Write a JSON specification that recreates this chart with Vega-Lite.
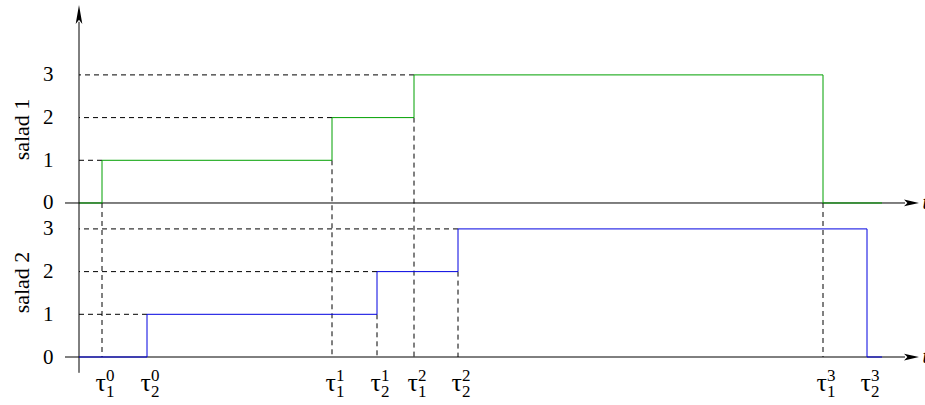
{
  "$schema": "https://vega.github.io/schema/vega-lite/v6.json",
  "width": 846,
  "height": 400,
  "autosize": {"type": "none"},
  "padding": {"left": 79, "top": 5, "right": 0, "bottom": 0},
  "background": "white",
  "config": {
    "view": {"stroke": null},
    "font": "Liberation Serif",
    "axisY": {
      "format": "d",
      "domain": false, "ticks": false, "tickSize": 0, "grid": false,
      "labelPadding": 26, "labelFont": "Liberation Serif", "labelFontSize": 21, "labelColor": "black",
      "titleFont": "Liberation Serif", "titleFontSize": 22, "titleFontWeight": "normal",
      "titleColor": "black", "titleAngle": 270, "titleAlign": "center", "titleBaseline": "alphabetic",
      "titleX": -51
    }
  },
  "datasets": {
    "steps": [
      {"salad": "salad 1", "t": 0, "level": 0},
      {"salad": "salad 1", "t": 2.3, "level": 1},
      {"salad": "salad 1", "t": 25.3, "level": 2},
      {"salad": "salad 1", "t": 33.5, "level": 3},
      {"salad": "salad 1", "t": 74.4, "level": 0},
      {"salad": "salad 1", "t": 80.3, "level": 0},
      {"salad": "salad 2", "t": 0, "level": 0},
      {"salad": "salad 2", "t": 6.8, "level": 1},
      {"salad": "salad 2", "t": 29.8, "level": 2},
      {"salad": "salad 2", "t": 37.9, "level": 3},
      {"salad": "salad 2", "t": 78.8, "level": 0},
      {"salad": "salad 2", "t": 80.3, "level": 0}
    ],
    "events": [
      {"salad": "salad 1", "sub": "1", "sup": "0", "t": 2.3, "low": 0},
      {"salad": "salad 1", "sub": "1", "sup": "1", "t": 25.3, "low": 1},
      {"salad": "salad 1", "sub": "1", "sup": "2", "t": 33.5, "low": 2},
      {"salad": "salad 1", "sub": "1", "sup": "3", "t": 74.4, "low": 0},
      {"salad": "salad 2", "sub": "2", "sup": "0", "t": 6.8, "low": 0},
      {"salad": "salad 2", "sub": "2", "sup": "1", "t": 29.8, "low": 1},
      {"salad": "salad 2", "sub": "2", "sup": "2", "t": 37.9, "low": 2},
      {"salad": "salad 2", "sub": "2", "sup": "3", "t": 78.8, "low": 0}
    ],
    "one": [{"k": 1}]
  },
  "resolve": {"scale": {"y": "independent"}},
  "layer": [
    {
      "layer": [
        {
          "data": {"name": "steps"},
          "transform": [{"filter": "datum.salad === 'salad 1' && datum.level > 0"}],
          "mark": {"type": "rule", "color": "black", "strokeWidth": 1, "strokeDash": [5, 4]},
          "encoding": {
            "x": {"field": "t", "type": "quantitative", "scale": {"domain": [0, 84.6], "nice": false, "zero": false}, "axis": null},
            "x2": {"datum": 0},
            "y": {"field": "level", "type": "quantitative", "scale": {"domain": [-4.731, 4.637], "nice": false, "zero": false}, "axis": {"orient": "left", "values": [0, 1, 2, 3], "title": "salad 1", "titleY": 124, "labelFont": "Liberation Serif", "titleFont": "Liberation Serif"}}
          }
        },
        {
          "data": {"name": "events"},
          "transform": [{"filter": "datum.salad === 'salad 1'"}],
          "mark": {"type": "rule", "color": "black", "strokeWidth": 1, "strokeDash": [5, 4]},
          "encoding": {
            "x": {"field": "t", "type": "quantitative", "scale": {"domain": [0, 84.6], "nice": false, "zero": false}, "axis": null},
            "y": {"field": "low", "type": "quantitative", "scale": {"domain": [-4.731, 4.637], "nice": false, "zero": false}, "axis": {"orient": "left", "values": [0, 1, 2, 3], "title": "salad 1", "titleY": 124, "labelFont": "Liberation Serif", "titleFont": "Liberation Serif"}},
            "y2": {"datum": -3.607}
          }
        },
        {
          "data": {"name": "one"},
          "mark": {"type": "rule", "color": "black", "strokeWidth": 1},
          "encoding": {
            "x": {"datum": -1.4, "type": "quantitative", "scale": {"domain": [0, 84.6], "nice": false, "zero": false}, "axis": null},
            "x2": {"datum": 82.6},
            "y": {"datum": 0, "type": "quantitative", "scale": {"domain": [-4.731, 4.637], "nice": false, "zero": false}, "axis": {"orient": "left", "values": [0, 1, 2, 3], "title": "salad 1", "titleY": 124, "labelFont": "Liberation Serif", "titleFont": "Liberation Serif"}}
          }
        },
        {
          "data": {"name": "one"},
          "mark": {"type": "point", "filled": true, "color": "black", "opacity": 1, "strokeWidth": 0, "size": 225, "shape": "M1,0 L-1,-0.45 L-0.55,0 L-1,0.45 Z"},
          "encoding": {
            "x": {"datum": 83.25, "type": "quantitative", "scale": {"domain": [0, 84.6], "nice": false, "zero": false}, "axis": null},
            "y": {"datum": 0, "type": "quantitative", "scale": {"domain": [-4.731, 4.637], "nice": false, "zero": false}, "axis": {"orient": "left", "values": [0, 1, 2, 3], "title": "salad 1", "titleY": 124, "labelFont": "Liberation Serif", "titleFont": "Liberation Serif"}}
          }
        },
        {
          "data": {"name": "one"},
          "mark": {"type": "text", "text": "t", "font": "Liberation Serif", "fontStyle": "italic", "fontSize": 20, "align": "left", "baseline": "middle", "color": "black"},
          "encoding": {
            "x": {"datum": 84.35, "type": "quantitative", "scale": {"domain": [0, 84.6], "nice": false, "zero": false}, "axis": null},
            "y": {"datum": 0, "type": "quantitative", "scale": {"domain": [-4.731, 4.637], "nice": false, "zero": false}, "axis": {"orient": "left", "values": [0, 1, 2, 3], "title": "salad 1", "titleY": 124, "labelFont": "Liberation Serif", "titleFont": "Liberation Serif"}}
          }
        },
        {
          "data": {"name": "steps"},
          "transform": [{"filter": "datum.salad === 'salad 1'"}],
          "mark": {"type": "line", "interpolate": "step-after", "color": "#00a000", "strokeWidth": 1},
          "encoding": {
            "x": {"field": "t", "type": "quantitative", "scale": {"domain": [0, 84.6], "nice": false, "zero": false}, "axis": null},
            "y": {"field": "level", "type": "quantitative", "scale": {"domain": [-4.731, 4.637], "nice": false, "zero": false}, "axis": {"orient": "left", "values": [0, 1, 2, 3], "title": "salad 1", "titleY": 124, "labelFont": "Liberation Serif", "titleFont": "Liberation Serif"}}
          }
        }
      ]
    },
    {
      "layer": [
        {
          "data": {"name": "steps"},
          "transform": [{"filter": "datum.salad === 'salad 2' && datum.level > 0"}],
          "mark": {"type": "rule", "color": "black", "strokeWidth": 1, "strokeDash": [5, 4]},
          "encoding": {
            "x": {"field": "t", "type": "quantitative", "scale": {"domain": [0, 84.6], "nice": false, "zero": false}, "axis": null},
            "x2": {"datum": 0},
            "y": {"field": "level", "type": "quantitative", "scale": {"domain": [-1.124, 8.244], "nice": false, "zero": false}, "axis": {"orient": "left", "values": [0, 1, 2, 3], "title": "salad 2", "titleY": 277, "labelFont": "Liberation Serif", "titleFont": "Liberation Serif"}}
          }
        },
        {
          "data": {"name": "events"},
          "transform": [{"filter": "datum.salad === 'salad 2'"}],
          "mark": {"type": "rule", "color": "black", "strokeWidth": 1, "strokeDash": [5, 4]},
          "encoding": {
            "x": {"field": "t", "type": "quantitative", "scale": {"domain": [0, 84.6], "nice": false, "zero": false}, "axis": null},
            "y": {"field": "low", "type": "quantitative", "scale": {"domain": [-1.124, 8.244], "nice": false, "zero": false}, "axis": {"orient": "left", "values": [0, 1, 2, 3], "title": "salad 2", "titleY": 277, "labelFont": "Liberation Serif", "titleFont": "Liberation Serif"}},
            "y2": {"datum": 0}
          }
        },
        {
          "data": {"name": "one"},
          "mark": {"type": "rule", "color": "black", "strokeWidth": 1},
          "encoding": {
            "x": {"datum": -1.4, "type": "quantitative", "scale": {"domain": [0, 84.6], "nice": false, "zero": false}, "axis": null},
            "x2": {"datum": 82.6},
            "y": {"datum": 0, "type": "quantitative", "scale": {"domain": [-1.124, 8.244], "nice": false, "zero": false}, "axis": {"orient": "left", "values": [0, 1, 2, 3], "title": "salad 2", "titleY": 277, "labelFont": "Liberation Serif", "titleFont": "Liberation Serif"}}
          }
        },
        {
          "data": {"name": "one"},
          "mark": {"type": "rule", "color": "black", "strokeWidth": 1},
          "encoding": {
            "x": {"datum": 0, "type": "quantitative", "scale": {"domain": [0, 84.6], "nice": false, "zero": false}, "axis": null},
            "y": {"datum": -0.37, "type": "quantitative", "scale": {"domain": [-1.124, 8.244], "nice": false, "zero": false}, "axis": {"orient": "left", "values": [0, 1, 2, 3], "title": "salad 2", "titleY": 277, "labelFont": "Liberation Serif", "titleFont": "Liberation Serif"}},
            "y2": {"datum": 7.85}
          }
        },
        {
          "data": {"name": "one"},
          "mark": {"type": "point", "filled": true, "color": "black", "opacity": 1, "strokeWidth": 0, "size": 225, "shape": "M1,0 L-1,-0.45 L-0.55,0 L-1,0.45 Z"},
          "encoding": {
            "x": {"datum": 83.25, "type": "quantitative", "scale": {"domain": [0, 84.6], "nice": false, "zero": false}, "axis": null},
            "y": {"datum": 0, "type": "quantitative", "scale": {"domain": [-1.124, 8.244], "nice": false, "zero": false}, "axis": {"orient": "left", "values": [0, 1, 2, 3], "title": "salad 2", "titleY": 277, "labelFont": "Liberation Serif", "titleFont": "Liberation Serif"}}
          }
        },
        {
          "data": {"name": "one"},
          "mark": {"type": "point", "filled": true, "color": "black", "opacity": 1, "strokeWidth": 0, "size": 361, "shape": "M0,-1 L-0.35,1 L0,0.55 L0.35,1 Z"},
          "encoding": {
            "x": {"datum": 0, "type": "quantitative", "scale": {"domain": [0, 84.6], "nice": false, "zero": false}, "axis": null},
            "y": {"datum": 8.02, "type": "quantitative", "scale": {"domain": [-1.124, 8.244], "nice": false, "zero": false}, "axis": {"orient": "left", "values": [0, 1, 2, 3], "title": "salad 2", "titleY": 277, "labelFont": "Liberation Serif", "titleFont": "Liberation Serif"}}
          }
        },
        {
          "data": {"name": "one"},
          "mark": {"type": "text", "text": "t", "font": "Liberation Serif", "fontStyle": "italic", "fontSize": 20, "align": "left", "baseline": "middle", "color": "black"},
          "encoding": {
            "x": {"datum": 84.35, "type": "quantitative", "scale": {"domain": [0, 84.6], "nice": false, "zero": false}, "axis": null},
            "y": {"datum": 0, "type": "quantitative", "scale": {"domain": [-1.124, 8.244], "nice": false, "zero": false}, "axis": {"orient": "left", "values": [0, 1, 2, 3], "title": "salad 2", "titleY": 277, "labelFont": "Liberation Serif", "titleFont": "Liberation Serif"}}
          }
        },
        {
          "data": {"name": "events"},
          "mark": {"type": "text", "text": "τ", "font": "Liberation Serif", "fontSize": 26, "align": "right", "baseline": "alphabetic", "dx": 4, "dy": 34, "color": "black"},
          "encoding": {
            "x": {"field": "t", "type": "quantitative", "scale": {"domain": [0, 84.6], "nice": false, "zero": false}, "axis": null},
            "y": {"datum": 0, "type": "quantitative", "scale": {"domain": [-1.124, 8.244], "nice": false, "zero": false}, "axis": {"orient": "left", "values": [0, 1, 2, 3], "title": "salad 2", "titleY": 277, "labelFont": "Liberation Serif", "titleFont": "Liberation Serif"}}
          }
        },
        {
          "data": {"name": "events"},
          "mark": {"type": "text", "font": "Liberation Serif", "fontSize": 17, "align": "left", "baseline": "alphabetic", "dx": 4, "dy": 24, "color": "black"},
          "encoding": {
            "x": {"field": "t", "type": "quantitative", "scale": {"domain": [0, 84.6], "nice": false, "zero": false}, "axis": null},
            "y": {"datum": 0, "type": "quantitative", "scale": {"domain": [-1.124, 8.244], "nice": false, "zero": false}, "axis": {"orient": "left", "values": [0, 1, 2, 3], "title": "salad 2", "titleY": 277, "labelFont": "Liberation Serif", "titleFont": "Liberation Serif"}},
            "text": {"field": "sup"}
          }
        },
        {
          "data": {"name": "events"},
          "mark": {"type": "text", "font": "Liberation Serif", "fontSize": 17, "align": "left", "baseline": "alphabetic", "dx": 4, "dy": 40, "color": "black"},
          "encoding": {
            "x": {"field": "t", "type": "quantitative", "scale": {"domain": [0, 84.6], "nice": false, "zero": false}, "axis": null},
            "y": {"datum": 0, "type": "quantitative", "scale": {"domain": [-1.124, 8.244], "nice": false, "zero": false}, "axis": {"orient": "left", "values": [0, 1, 2, 3], "title": "salad 2", "titleY": 277, "labelFont": "Liberation Serif", "titleFont": "Liberation Serif"}},
            "text": {"field": "sub"}
          }
        },
        {
          "data": {"name": "steps"},
          "transform": [{"filter": "datum.salad === 'salad 2'"}],
          "mark": {"type": "line", "interpolate": "step-after", "color": "#0000e0", "strokeWidth": 1},
          "encoding": {
            "x": {"field": "t", "type": "quantitative", "scale": {"domain": [0, 84.6], "nice": false, "zero": false}, "axis": null},
            "y": {"field": "level", "type": "quantitative", "scale": {"domain": [-1.124, 8.244], "nice": false, "zero": false}, "axis": {"orient": "left", "values": [0, 1, 2, 3], "title": "salad 2", "titleY": 277, "labelFont": "Liberation Serif", "titleFont": "Liberation Serif"}}
          }
        }
      ]
    }
  ]
}
